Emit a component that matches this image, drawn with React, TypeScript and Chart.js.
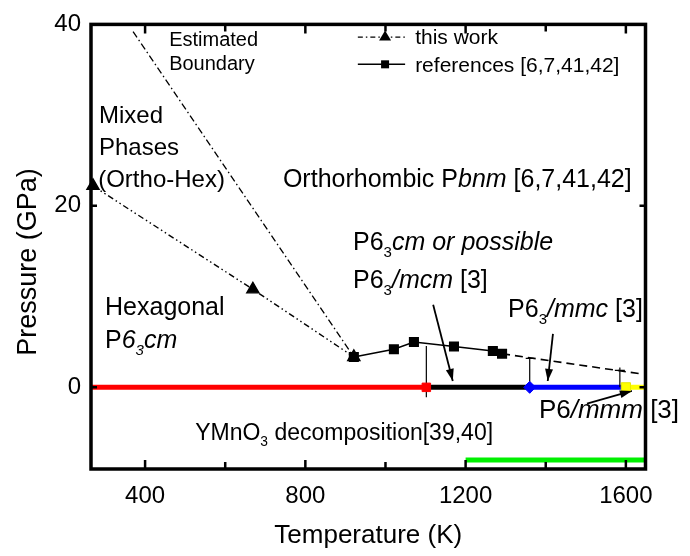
import React, { useEffect, useRef } from "react";
import { Chart, registerables } from "chart.js";

Chart.register(...registerables);

// ---- axes ----
const X_MIN = 265;
const X_MAX = 1649;
const Y_MIN = -9;
const Y_MAX = 40;
const xTicks = [400, 800, 1200, 1600];
const xMinorTicks = [600, 1000, 1400];
const yTicks = [0, 20, 40];

// ---- this work (estimated boundaries) ----
const thisWorkT = [270, 669, 921];
const thisWorkP = [22.2, 10.8, 3.35];
const boundaryT = [370, 921];
const boundaryP = [39.2, 3.35];

// ---- references [6,7,41,42] ----
const refT = [921, 1021, 1071, 1171, 1268, 1291];
const refP = [3.35, 4.2, 5.0, 4.5, 4.0, 3.7];
const refTailT = [1291, 1635];
const refTailP = [3.7, 1.5];

// ---- ambient-pressure phase sequence ----
const phaseEdgesT = [265, 1102, 1360, 1600, 1649];
const phaseP = 0;
const phaseMarkerT = [1102, 1360, 1600];

// ---- decomposition range ----
const decompT = [1200, 1649];
const decompP = -8.0;

// ---- vertical error bars ----
const errT = [1102, 1360, 1585];
const errHighP = [4.55, 3.2, 2.2];
const errLowP = [-1.1, -0.6, 0];

// ---- arrows ----
const arrowFromT = [1119, 1418, 1503];
const arrowFromP = [9.1, 5.9, -1.8];
const arrowToT = [1168, 1405, 1615];
const arrowToP = [0.7, 0.7, -0.4];

const FONT = '"Liberation Sans", Arial, Helvetica, sans-serif';

type Seg = { t: string; i?: boolean; sub?: boolean };

function drawRich(ctx: CanvasRenderingContext2D, segs: Seg[], x: number, y: number, size: number) {
  let cx = x;
  for (const s of segs) {
    const fs = s.sub ? size * 0.6 : size;
    ctx.font = `${s.i ? "italic " : ""}${fs}px ${FONT}`;
    ctx.fillText(s.t, cx, s.sub ? y + size * 0.28 : y);
    cx += ctx.measureText(s.t).width;
  }
}

export default function App() {
  const ref = useRef<HTMLCanvasElement>(null);

  useEffect(() => {
    const canvas = ref.current!;
    const pts = (xs: number[], ys: number[]) => xs.map((x, i) => ({ x, y: ys[i] }));
    const base = { tension: 0, pointRadius: 0, fill: false, showLine: true };

    const datasets: any[] = [];

    // markers at the phase boundaries (top)
    datasets.push({
      ...base,
      order: 0,
      showLine: false,
      data: phaseMarkerT.map((t) => ({ x: t, y: phaseP })),
      pointStyle: ["rect", "rectRot", "rect"],
      pointRadius: [6, 6, 6.5],
      pointBackgroundColor: ["#ff0000", "#0000ff", "#ffff00"],
      pointBorderColor: ["#ff0000", "#0000ff", "#e8e800"],
      pointBorderWidth: 1,
      clip: false,
    });

    // error bars
    errT.forEach((t, i) => {
      datasets.push({
        ...base,
        order: 1,
        data: [{ x: t, y: errLowP[i] }, { x: t, y: errHighP[i] }],
        borderColor: "#000",
        borderWidth: 1.2,
      });
    });

    // arrows (shafts)
    arrowFromT.forEach((t, i) => {
      datasets.push({
        ...base,
        order: 1,
        data: [{ x: t, y: arrowFromP[i] }, { x: arrowToT[i], y: arrowToP[i] }],
        borderColor: "#000",
        borderWidth: 1.8,
      });
    });

    // this work: triangles with dash-dot-dot line
    datasets.push({
      ...base,
      order: 2,
      data: pts(thisWorkT, thisWorkP),
      borderColor: "#000",
      borderWidth: 1.4,
      borderDash: [6, 3, 1.5, 3, 1.5, 3],
      pointStyle: "triangle",
      pointRadius: 7,
      pointBackgroundColor: "#000",
      pointBorderColor: "#000",
      clip: false,
    });

    // estimated boundary (dash-dot)
    datasets.push({
      ...base,
      order: 2,
      data: pts(boundaryT, boundaryP),
      borderColor: "#000",
      borderWidth: 1.3,
      borderDash: [7, 3, 1.5, 3],
    });

    // references: squares with solid line
    datasets.push({
      ...base,
      order: 2,
      data: pts(refT, refP),
      borderColor: "#000",
      borderWidth: 1.6,
      pointStyle: "rect",
      pointRadius: 6,
      pointBackgroundColor: "#000",
      pointBorderColor: "#000",
    });
    datasets.push({
      ...base,
      order: 2,
      data: pts(refTailT, refTailP),
      borderColor: "#000",
      borderWidth: 1.6,
      borderDash: [8, 5],
    });

    // phase bars at 0 GPa
    const phaseColors = ["#ff0000", "#000000", "#0000ff", "#ffff00"];
    for (let i = 0; i < phaseEdgesT.length - 1; i++) {
      datasets.push({
        ...base,
        order: 3,
        data: [{ x: phaseEdgesT[i], y: phaseP }, { x: phaseEdgesT[i + 1], y: phaseP }],
        borderColor: phaseColors[i],
        borderWidth: 5,
        borderCapStyle: "butt",
      });
    }

    // decomposition bar
    datasets.push({
      ...base,
      order: 3,
      data: decompT.map((t) => ({ x: t, y: decompP })),
      borderColor: "#00f000",
      borderWidth: 5,
      borderCapStyle: "butt",
    });

    const decor = {
      id: "decor",
      afterDatasetsDraw(chart: any) {
        const { ctx, chartArea: a } = chart;
        const xs = chart.scales.x;
        const ys = chart.scales.y;
        const X = (v: number) => xs.getPixelForValue(v);
        const Y = (v: number) => ys.getPixelForValue(v);
        ctx.save();
        ctx.fillStyle = "#000";
        ctx.strokeStyle = "#000";

        // arrowheads
        for (let i = 0; i < arrowFromT.length; i++) {
          const x0 = X(arrowFromT[i]);
          const y0 = Y(arrowFromP[i]);
          const x1 = X(arrowToT[i]);
          const y1 = Y(arrowToP[i]);
          const ang = Math.atan2(y1 - y0, x1 - x0);
          const L = 12;
          const W = 4;
          ctx.beginPath();
          ctx.moveTo(x1, y1);
          ctx.lineTo(x1 - L * Math.cos(ang) + W * Math.sin(ang), y1 - L * Math.sin(ang) - W * Math.cos(ang));
          ctx.lineTo(x1 - L * Math.cos(ang) - W * Math.sin(ang), y1 - L * Math.sin(ang) + W * Math.cos(ang));
          ctx.closePath();
          ctx.fill();
        }

        // caps on error bars
        ctx.lineWidth = 1.2;
        ctx.beginPath();
        ctx.moveTo(X(errT[1]) - 4, Y(errHighP[1]));
        ctx.lineTo(X(errT[1]) + 4, Y(errHighP[1]));
        ctx.moveTo(X(errT[2]) - 5, Y(errHighP[2]) + 3);
        ctx.lineTo(X(errT[2]) + 5, Y(errHighP[2]) + 3);
        ctx.stroke();

        // frame
        ctx.lineWidth = 3.5;
        ctx.strokeRect(a.left, a.top, a.right - a.left, a.bottom - a.top);

        // inward ticks
        ctx.lineWidth = 2.5;
        ctx.beginPath();
        const tickX = (v: number, len: number) => {
          const px = X(v);
          ctx.moveTo(px, a.bottom);
          ctx.lineTo(px, a.bottom - len);
          ctx.moveTo(px, a.top);
          ctx.lineTo(px, a.top + len);
        };
        xTicks.forEach((v) => tickX(v, 9));
        xMinorTicks.forEach((v) => tickX(v, 7));
        yTicks.forEach((v) => {
          const py = Y(v);
          ctx.moveTo(a.left, py);
          ctx.lineTo(a.left + 6, py);
          ctx.moveTo(a.right, py);
          ctx.lineTo(a.right - 6, py);
        });
        ctx.stroke();

        // annotations
        ctx.textAlign = "left";
        ctx.textBaseline = "alphabetic";
        const T = (t: number, p: number, segs: Seg[], size: number) => drawRich(ctx, segs, X(t), Y(p), size);
        T(460, 37.6, [{ t: "Estimated" }], 20);
        T(460, 35.0, [{ t: "Boundary" }], 20);
        T(285, 29.1, [{ t: "Mixed" }], 24);
        T(285, 25.6, [{ t: "Phases" }], 24);
        T(283, 22.1, [{ t: "(Ortho-Hex)" }], 24);
        T(744, 22.1, [{ t: "Orthorhombic P" }, { t: "bnm", i: true }, { t: " [6,7,41,42]" }], 25);
        T(300, 8.0, [{ t: "Hexagonal" }], 25);
        T(300, 4.3, [{ t: "P" }, { t: "6", i: true }, { t: "3", i: true, sub: true }, { t: "cm", i: true }], 25);
        T(919, 15.1, [{ t: "P6" }, { t: "3", sub: true }, { t: "cm or possible", i: true }], 25);
        T(919, 10.9, [{ t: "P6" }, { t: "3", sub: true }, { t: "/mcm", i: true }, { t: " [3]" }], 25);
        T(1306, 7.8, [{ t: "P6" }, { t: "3", sub: true }, { t: "/mmc", i: true }, { t: " [3]" }], 25);
        T(1383, -3.4, [{ t: "P6" }, { t: "/mmm", i: true }, { t: " [3]" }], 26);
        T(525, -5.8, [{ t: "YMnO" }, { t: "3", sub: true }, { t: " decomposition[39,40]" }], 23);

        // legend
        const lx0 = X(931);
        const lx1 = X(1049);
        const lxc = X(999);
        const ly1 = Y(38.6);
        const ly2 = Y(35.6);
        ctx.lineWidth = 1.4;
        ctx.setLineDash([5, 3, 1.5, 3]);
        ctx.beginPath();
        ctx.moveTo(lx0, ly1);
        ctx.lineTo(lx1, ly1);
        ctx.stroke();
        ctx.setLineDash([]);
        ctx.beginPath();
        ctx.moveTo(lxc, ly1 - 6.5);
        ctx.lineTo(lxc + 6, ly1 + 3.5);
        ctx.lineTo(lxc - 6, ly1 + 3.5);
        ctx.closePath();
        ctx.fill();
        ctx.lineWidth = 1.6;
        ctx.beginPath();
        ctx.moveTo(lx0, ly2);
        ctx.lineTo(lx1, ly2);
        ctx.stroke();
        ctx.fillRect(lxc - 4, ly2 - 4, 8, 8);
        T(1074, 37.8, [{ t: "this work" }], 21);
        T(1074, 34.75, [{ t: "references [6,7,41,42]" }], 21);

        // axis titles
        ctx.font = `26px ${FONT}`;
        ctx.textAlign = "center";
        ctx.fillText("Temperature (K)", (a.left + a.right) / 2, 543);
        ctx.save();
        ctx.translate(36, 262);
        ctx.rotate(-Math.PI / 2);
        ctx.font = `27px ${FONT}`;
        ctx.fillText("Pressure (GPa)", 0, 0);
        ctx.restore();

        ctx.restore();
      },
    };

    const tickFont = { family: FONT, size: 24 };
    const plain = (v: any) => String(v);

    const chart = new Chart(canvas, {
      type: "line",
      data: { datasets },
      plugins: [decor],
      options: {
        animation: false,
        responsive: false,
        events: [],
        layout: { padding: { left: 0, top: 20, right: 44.5, bottom: 0 } },
        plugins: { legend: { display: false }, tooltip: { enabled: false }, title: { display: false } },
        scales: {
          x: {
            type: "linear",
            position: "bottom",
            min: X_MIN,
            max: X_MAX,
            grid: { display: false, drawTicks: false },
            border: { display: false },
            ticks: { font: tickFont, color: "#000", padding: 13, maxRotation: 0, autoSkip: false, callback: plain },
            afterBuildTicks: (s: any) => {
              s.ticks = xTicks.map((v) => ({ value: v }));
            },
            afterFit: (s: any) => {
              s.height = 87;
            },
          },
          y: {
            type: "linear",
            position: "left",
            min: Y_MIN,
            max: Y_MAX,
            grid: { display: false, drawTicks: false },
            border: { display: false },
            ticks: { font: tickFont, color: "#000", padding: 10, autoSkip: false, callback: plain },
            afterBuildTicks: (s: any) => {
              s.ticks = yTicks.map((v) => ({ value: v }));
            },
            afterFit: (s: any) => {
              s.width = 91;
            },
          },
        },
      } as any,
    });

    return () => chart.destroy();
  }, []);

  return (
    <div style={{ position: "absolute", left: 0, top: 0, width: 690, height: 556, background: "#fff" }}>
      <canvas ref={ref} width={690} height={556} style={{ display: "block" }} />
    </div>
  );
}
